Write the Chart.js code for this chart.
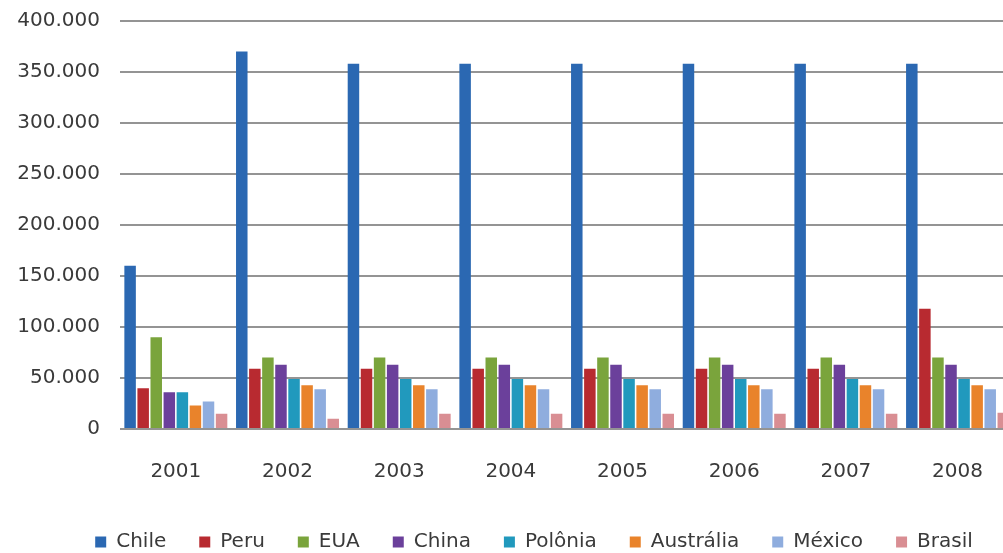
<!DOCTYPE html>
<html>

<head>
    <title>Produção por país</title>
    <script src="https://cdn.jsdelivr.net/npm/chart.js"></script>
    <style>
        body { margin: 0; overflow: hidden; background: #fff; }
    </style>
</head>

<body>
    <canvas id="prodChart" width="1014" height="553"></canvas>

    <script>
        const years = ['2001', '2002', '2003', '2004', '2005', '2006', '2007', '2008'];

        const chile     = [160000, 370000, 358000, 358000, 358000, 358000, 358000, 358000];
        const peru      = [40000, 59000, 59000, 59000, 59000, 59000, 59000, 118000];
        const eua       = [90000, 70000, 70000, 70000, 70000, 70000, 70000, 70000];
        const china     = [36000, 63000, 63000, 63000, 63000, 63000, 63000, 63000];
        const polonia   = [36000, 49000, 49000, 49000, 49000, 49000, 49000, 49000];
        const australia = [23000, 43000, 43000, 43000, 43000, 43000, 43000, 43000];
        const mexico    = [27000, 39000, 39000, 39000, 39000, 39000, 39000, 39000];
        const brasil    = [15000, 10000, 15000, 15000, 15000, 15000, 15000, 16000];

        const yTicks = [0, 50000, 100000, 150000, 200000, 250000, 300000, 350000, 400000];

        const fontFamily = '"DejaVu Sans", sans-serif';
        const textColor = '#3a3a3a';

        function series(label, values, color) {
            return {
                label: label,
                data: values,
                backgroundColor: color,
                borderWidth: 0,
                categoryPercentage: 0.936,
                barPercentage: 0.88
            };
        }

        // legend in the original sits a bit right of the canvas centre
        const legendShift = {
            id: 'legendShift',
            afterLayout(chart) {
                chart.legend.left += 27;
                chart.legend.right += 27;
            }
        };

        const ctx = document.getElementById('prodChart').getContext('2d');

        const data = {
            labels: years,
            datasets: [
                series('Chile', chile, '#2b68b2'),
                series('Peru', peru, '#b82a30'),
                series('EUA', eua, '#7aa43c'),
                series('China', china, '#6b409b'),
                series('Polônia', polonia, '#2199bd'),
                series('Austrália', australia, '#e9832b'),
                series('México', mexico, '#8fadde'),
                series('Brasil', brasil, '#d98e93')
            ]
        };

        const options = {
            responsive: false,
            animation: false,
            layout: {
                padding: { top: 21, left: 0, right: 0, bottom: 0 }
            },
            plugins: {
                tooltip: { enabled: false },
                legend: {
                    position: 'bottom',
                    maxHeight: 54,
                    labels: {
                        boxWidth: 11,
                        boxHeight: 11,
                        padding: 33,
                        color: textColor,
                        font: { family: fontFamily, size: 20 }
                    }
                }
            },
            scales: {
                x: {
                    grid: { display: false, drawTicks: false },
                    border: { display: false },
                    ticks: {
                        color: textColor,
                        padding: 31,
                        font: { family: fontFamily, size: 20 }
                    },
                    afterFit: function (axis) { axis.height = 70; }
                },
                y: {
                    min: 0,
                    max: 400000,
                    afterBuildTicks: function (axis) {
                        axis.ticks = yTicks.map(v => ({ value: v }));
                    },
                    grid: { color: '#949494', lineWidth: 2, drawTicks: false },
                    border: { display: false },
                    ticks: {
                        color: textColor,
                        padding: 20,
                        font: { family: fontFamily, size: 20 },
                        callback: function (v) {
                            return v === 0 ? '0' : (v / 1000) + '.000';
                        }
                    },
                    afterFit: function (axis) {
                        axis.width = 120;
                        axis.paddingTop = 0;
                        axis.paddingBottom = 0;
                    }
                }
            }
        };

        new Chart(ctx, { type: 'bar', data, options, plugins: [legendShift] });
    </script>

</body>

</html>
